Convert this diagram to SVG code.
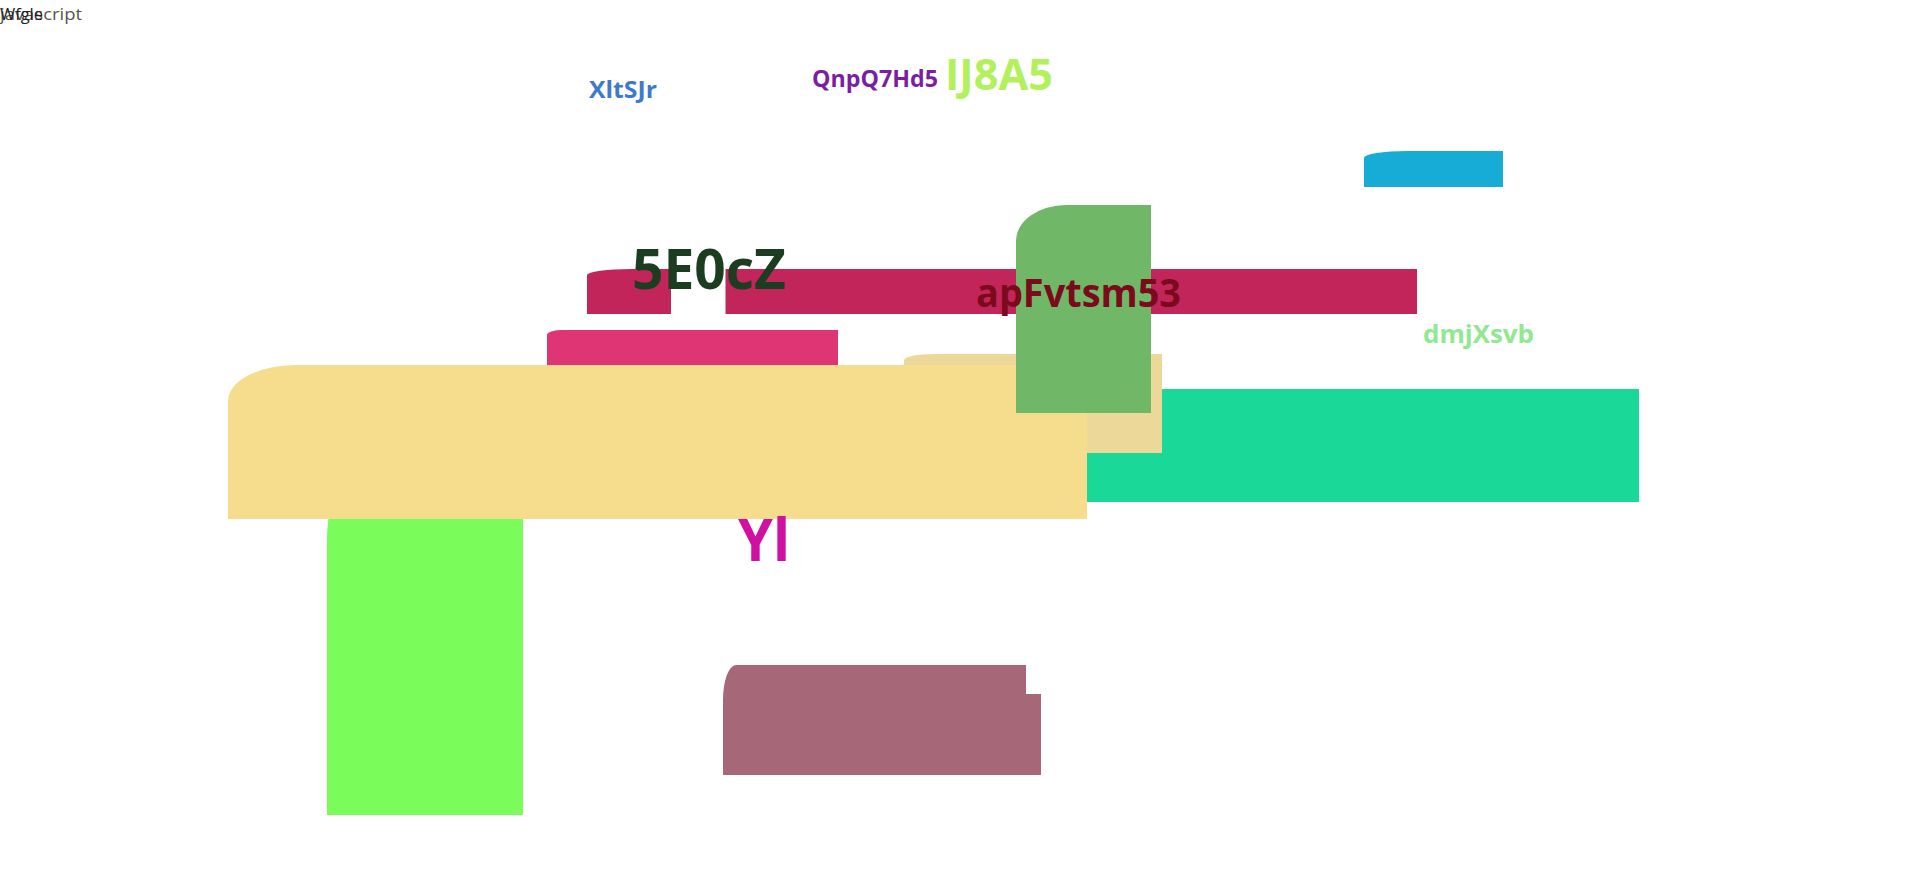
<svg xmlns="http://www.w3.org/2000/svg" width="1920" height="870" viewBox="0 0 1920 870">
<style>
.lbl{font-family:"Open Sans","Noto Sans","Liberation Sans",sans-serif;font-weight:700}
.small{font-family:"Open Sans","Noto Sans","Liberation Sans",sans-serif;font-size:16px}
</style>
<rect x="0" y="0" width="1920" height="870" fill="#ffffff"/>
<g id="header-text">
<text class="small" x="0" y="20" textLength="82" lengthAdjust="spacingAndGlyphs" fill="#555555">javascript</text>
<text class="small" x="0" y="20" textLength="43" lengthAdjust="spacingAndGlyphs" fill="#222222">Wfgle</text>
</g>
<g id="connectors"></g>
<g id="node-teal"><rect x="1000" y="389" width="639" height="113" fill="#1ad898"/></g>
<g id="node-beige"><path d="M904,453 V360 A30,6 0 0 1 934,354 H1162 V453 Z" fill="#ecd898"/></g>
<g id="node-pink"><path d="M547,420 V335 A15,5 0 0 1 562,330 H838 V420 Z" fill="#e03575"/></g>
<g id="node-crimson-a"><path d="M587,314 V275 A45,6 0 0 1 632,269 H671 V314 Z" fill="#c2255a"/></g>
<g id="node-crimson-b"><rect x="725.5" y="269" width="691.5" height="45" fill="#c2255a"/></g>
<g id="node-lime"><path d="M327,815 V540 A12,45 0 0 1 339,495 H523 V815 Z" fill="#7afc5a"/></g>
<g id="node-yellow"><path d="M228,519 V401 A68,36 0 0 1 296,365 H1087 V519 Z" fill="#f6dd8e"/></g>
<g id="node-green"><path d="M1016,413 V241 A50,36 0 0 1 1066,205 H1151 V413 Z" fill="#70b868"/></g>
<g id="node-cyan"><path d="M1364,187 V158 A43,7 0 0 1 1407,151 H1503 V187 Z" fill="#16acd6"/></g>
<g id="node-mauve">
<path d="M723,775 V700 A13,35 0 0 1 736,665 H1026 V775 Z" fill="#a66878"/>
<rect x="900" y="694" width="141" height="81" fill="#a66878"/>
</g>
<g id="labels">
<text class="lbl" x="589" y="98" font-size="24" textLength="68" lengthAdjust="spacingAndGlyphs" fill="#3d7acb">XltSJr</text>
<text class="lbl" x="812" y="87" font-size="24" textLength="126" lengthAdjust="spacingAndGlyphs" fill="#7b1fa2">QnpQ7Hd5</text>
<text class="lbl" x="945" y="90" font-size="43" textLength="108" lengthAdjust="spacingAndGlyphs" fill="#b2f05c">IJ8A5</text>
<text class="lbl" x="632" y="289" font-size="56" textLength="154" lengthAdjust="spacingAndGlyphs" fill="#1c3d20">5E0cZ</text>
<text class="lbl" x="976" y="307" font-size="40" textLength="205" lengthAdjust="spacingAndGlyphs" fill="#7a0a1c">apFvtsm53</text>
<text class="lbl" x="1423" y="343" font-size="25" textLength="111" lengthAdjust="spacingAndGlyphs" fill="#90e890">dmjXsvb</text>
<text class="lbl" x="738" y="561" font-size="59" textLength="52" lengthAdjust="spacingAndGlyphs" fill="#cf10a0">Yl</text>
</g>
</svg>
